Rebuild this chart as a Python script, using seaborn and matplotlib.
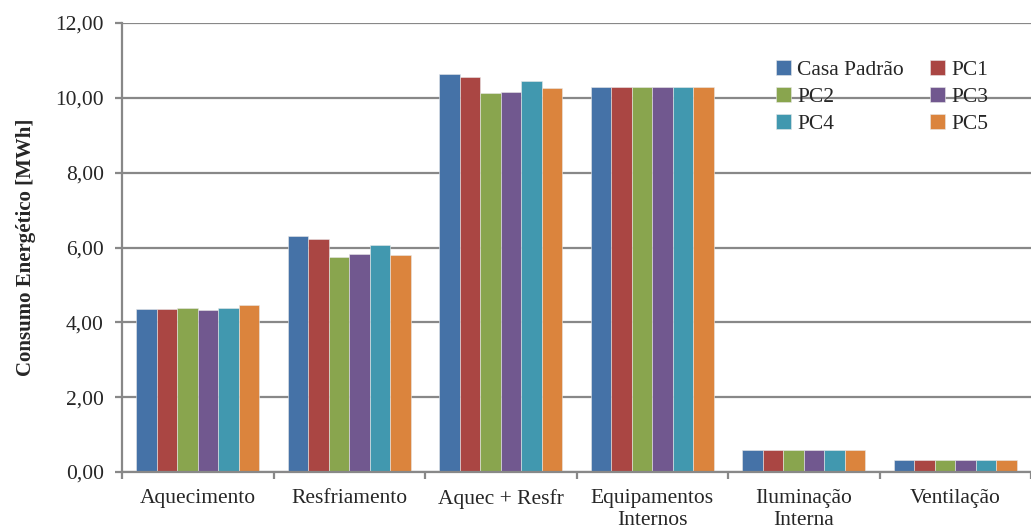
import pandas as pd
import numpy as np
import matplotlib.pyplot as plt
import matplotlib.ticker as mticker
import seaborn as sns

# Valores (MWh)
categorias = ['Aquecimento', 'Resfriamento', 'Aquec + Resfr',
              'Equipamentos\nInternos', 'Iluminação\nInterna', 'Ventilação']
casos = ['Casa Padrão', 'PC1', 'PC2', 'PC3', 'PC4', 'PC5']

casa_padrao = [4.35, 6.32, 10.65, 10.28, 0.59, 0.31]
pc1 = [4.35, 6.22, 10.57, 10.28, 0.59, 0.31]
pc2 = [4.37, 5.75, 10.13, 10.28, 0.59, 0.31]
pc3 = [4.33, 5.83, 10.16, 10.28, 0.59, 0.31]
pc4 = [4.38, 6.08, 10.46, 10.28, 0.59, 0.31]
pc5 = [4.45, 5.80, 10.25, 10.28, 0.59, 0.31]

cores = ['#4572A7', '#AA4643', '#89A54E', '#71588F', '#4198AF', '#DB843D']

series = [casa_padrao, pc1, pc2, pc3, pc4, pc5]
data = pd.DataFrame({
    'Categoria': categorias * len(casos),
    'Caso': np.repeat(casos, len(categorias)),
    'Consumo': np.concatenate(series),
})

sns.set_style('white')
plt.rcParams['font.family'] = ['Liberation Serif', 'DejaVu Serif']

fig = plt.figure(figsize=(10.31, 5.29), dpi=100)
ax = fig.add_axes([122 / 1031, 1 - 472 / 529, (1031 - 122) / 1031, (472 - 23) / 529])

sns.barplot(data=data, x='Categoria', y='Consumo', hue='Caso', palette=cores,
            order=categorias, hue_order=casos, width=0.81, saturation=1, ax=ax,
            edgecolor='#e8e8e8', linewidth=0.4, errorbar=None)

ax.set_ylim(0, 12)
ax.set_xlim(-0.5, len(categorias) - 0.5)
ax.yaxis.set_major_locator(mticker.MultipleLocator(2))
ax.yaxis.set_major_formatter(mticker.FuncFormatter(lambda v, p: f'{v:.2f}'.replace('.', ',')))
ax.grid(axis='y', color='#888888', linewidth=1.6)
ax.set_axisbelow(True)

for s in ['top', 'right']:
    ax.spines[s].set_visible(False)
for s in ['left', 'bottom']:
    ax.spines[s].set_color('#888888')
    ax.spines[s].set_linewidth(1.6)

ax.tick_params(axis='y', which='major', length=5, color='#888888', width=1.6,
               labelsize=15.5, direction='out', left=True, pad=8)
ax.tick_params(axis='x', which='major', length=0, labelsize=15.5, pad=12)
ax.set_xticks(np.arange(-0.5, len(categorias)), minor=True)
ax.tick_params(axis='x', which='minor', length=5, color='#888888', width=1.6,
               direction='out', bottom=True)
for lbl in ax.get_xticklabels():
    lbl.set_linespacing(1.25)

ax.set_xlabel('')
ax.set_ylabel('Consumo Energético [MWh]', fontsize=15, fontweight='bold', labelpad=14)

# legenda preenchida por linhas (como no Excel)
handles, labels = ax.get_legend_handles_labels()
ordem = [0, 2, 4, 1, 3, 5]
ax.legend([handles[i] for i in ordem], [labels[i] for i in ordem],
          loc='upper left', bbox_to_anchor=(0.719, 0.918), ncol=2, frameon=False,
          fontsize=15.5, handlelength=0.7, handleheight=0.7, handletextpad=0.3,
          columnspacing=1.2, labelspacing=0.33, borderpad=0, borderaxespad=0)

fig.savefig('out.png', dpi=100)
